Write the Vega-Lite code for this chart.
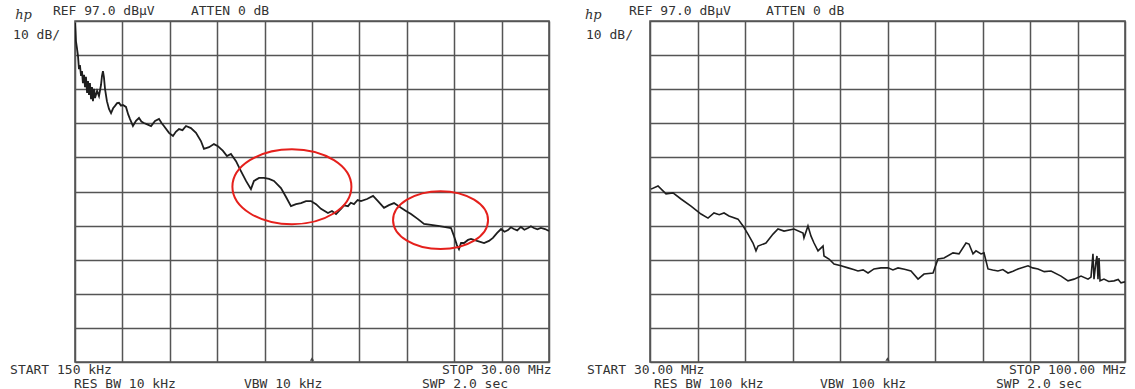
{
  "$schema": "https://vega.github.io/schema/vega-lite/v6.json",
  "background": "white",
  "padding": {"left": 9, "top": 4, "right": 0, "bottom": 0},
  "bounds": "flush",
  "spacing": 101,
  "config": {"view": {"stroke": "#555", "strokeWidth": 1.6}},
  "datasets": {
    "trace1": [
      {"f":0.15,"dB":96.4},{"f":0.18,"dB":94.1},{"f":0.21,"dB":91.1},{"f":0.28,"dB":88.8},{"f":0.34,"dB":86.7},
      {"f":0.40,"dB":82.9},{"f":0.46,"dB":84.1},{"f":0.53,"dB":80.9},{"f":0.59,"dB":82.3},{"f":0.65,"dB":78.8},
      {"f":0.72,"dB":81.2},{"f":0.78,"dB":77.6},{"f":0.84,"dB":80.6},{"f":0.91,"dB":75.9},{"f":0.97,"dB":79.4},
      {"f":1.03,"dB":75.3},{"f":1.09,"dB":78.8},{"f":1.16,"dB":74.1},{"f":1.22,"dB":77.6},{"f":1.28,"dB":73.5},
      {"f":1.35,"dB":77.1},{"f":1.41,"dB":74.4},{"f":1.54,"dB":76.5},{"f":1.66,"dB":75.0},{"f":1.79,"dB":78.3},
      {"f":1.85,"dB":80.9},{"f":1.91,"dB":82.3},{"f":1.97,"dB":80.6},{"f":2.04,"dB":77.1},{"f":2.16,"dB":73.5},
      {"f":2.29,"dB":71.2},{"f":2.42,"dB":70.0},{"f":2.55,"dB":71.4},{"f":2.67,"dB":72.1},{"f":2.80,"dB":72.9},{"f":2.92,"dB":73.0},{"f":3.05,"dB":72.2},{"f":3.17,"dB":72.4},
      {"f":3.36,"dB":71.8},{"f":3.50,"dB":69.6},{"f":3.61,"dB":68.3},{"f":3.80,"dB":66.2},{"f":3.99,"dB":67.7},{"f":4.18,"dB":68.6},
      {"f":4.33,"dB":67.5},{"f":4.49,"dB":67.1},{"f":4.70,"dB":66.7},{"f":4.94,"dB":66.2},{"f":5.19,"dB":67.7},{"f":5.44,"dB":68.3},{"f":5.60,"dB":67.1},{"f":5.75,"dB":66.2},
      {"f":6.07,"dB":64.2},{"f":6.32,"dB":63.3},{"f":6.50,"dB":64.5},{"f":6.70,"dB":65.3},{"f":6.92,"dB":65.0},{"f":7.14,"dB":66.2},{"f":7.45,"dB":65.6},
      {"f":7.77,"dB":64.2},{"f":8.08,"dB":61.8},{"f":8.27,"dB":59.5},{"f":8.59,"dB":60.0},{"f":8.90,"dB":60.9},
      {"f":9.15,"dB":60.3},{"f":9.47,"dB":58.9},{"f":9.72,"dB":57.4},{"f":9.97,"dB":58.0},{"f":10.29,"dB":55.9},
      {"f":10.60,"dB":53.0},{"f":10.92,"dB":50.1},{"f":11.23,"dB":47.7},{"f":11.42,"dB":50.1},{"f":11.74,"dB":51.0},
      {"f":12.05,"dB":51.0},{"f":12.37,"dB":50.7},{"f":12.68,"dB":50.1},{"f":13.12,"dB":48.0},{"f":13.44,"dB":45.4},
      {"f":13.75,"dB":42.7},{"f":14.07,"dB":43.3},{"f":14.38,"dB":43.6},{"f":14.70,"dB":44.2},{"f":15.01,"dB":44.2},
      {"f":15.33,"dB":43.3},{"f":15.64,"dB":41.9},{"f":16.08,"dB":40.7},{"f":16.33,"dB":41.3},{"f":16.59,"dB":40.4},
      {"f":16.90,"dB":41.9},{"f":17.10,"dB":42.9},{"f":17.34,"dB":42.7},{"f":17.52,"dB":43.7},{"f":17.72,"dB":43.3},{"f":17.95,"dB":44.5},{"f":18.16,"dB":44.2},{"f":18.54,"dB":44.8},
      {"f":18.92,"dB":45.7},{"f":19.23,"dB":44.2},{"f":19.61,"dB":42.2},{"f":19.92,"dB":43.0},{"f":20.24,"dB":43.6},
      {"f":20.68,"dB":42.2},{"f":20.99,"dB":41.3},{"f":21.31,"dB":40.4},{"f":21.75,"dB":38.9},{"f":22.13,"dB":37.5},
      {"f":22.57,"dB":37.2},{"f":23.01,"dB":36.9},{"f":23.39,"dB":36.6},{"f":23.83,"dB":36.3},{"f":24.02,"dB":33.9},
      {"f":24.20,"dB":31.3},{"f":24.33,"dB":30.1},{"f":24.46,"dB":31.9},{"f":24.65,"dB":31.9},{"f":24.90,"dB":32.8},
      {"f":25.09,"dB":33.1},{"f":25.47,"dB":32.5},{"f":25.91,"dB":31.9},{"f":26.22,"dB":32.5},{"f":26.47,"dB":33.4},
      {"f":26.72,"dB":34.8},{"f":26.98,"dB":36.0},{"f":27.20,"dB":35.2},{"f":27.42,"dB":35.7},{"f":27.60,"dB":36.5},{"f":27.79,"dB":36.0},{"f":28.00,"dB":35.6},{"f":28.23,"dB":36.6},
      {"f":28.45,"dB":35.8},{"f":28.68,"dB":36.3},{"f":28.86,"dB":36.8},{"f":29.05,"dB":36.3},{"f":29.27,"dB":35.9},{"f":29.49,"dB":36.3},{"f":29.75,"dB":36.0},{"f":30.00,"dB":35.4}
    ],
    "trace2": [
      {"f":30.15,"dB":47.7},{"f":31.18,"dB":48.6},{"f":32.36,"dB":46.3},{"f":33.39,"dB":46.6},{"f":34.57,"dB":44.8},
      {"f":36.04,"dB":42.7},{"f":37.52,"dB":40.4},{"f":38.55,"dB":39.2},{"f":39.43,"dB":40.7},{"f":40.20,"dB":40.2},{"f":40.91,"dB":40.7},
      {"f":41.64,"dB":39.8},{"f":42.97,"dB":38.9},{"f":43.71,"dB":36.9},{"f":44.44,"dB":34.5},{"f":45.18,"dB":31.9},
      {"f":45.62,"dB":29.6},{"f":45.92,"dB":31.0},{"f":47.09,"dB":31.9},{"f":48.13,"dB":34.5},{"f":48.86,"dB":36.0},
      {"f":49.75,"dB":35.4},{"f":51.22,"dB":36.0},{"f":52.55,"dB":34.8},{"f":52.69,"dB":33.4},{"f":53.28,"dB":36.9},
      {"f":53.73,"dB":33.9},{"f":54.17,"dB":31.9},{"f":54.76,"dB":29.6},{"f":55.50,"dB":31.0},{"f":55.64,"dB":28.1},
      {"f":56.38,"dB":27.2},{"f":57.12,"dB":25.7},{"f":58.15,"dB":25.2},{"f":59.18,"dB":24.6},{"f":60.00,"dB":24.1},{"f":60.65,"dB":23.7},
      {"f":61.40,"dB":24.0},{"f":62.13,"dB":23.1},{"f":63.01,"dB":24.3},{"f":64.04,"dB":24.6},{"f":65.07,"dB":24.6},{"f":65.80,"dB":24.0},{"f":66.55,"dB":24.6},
      {"f":67.50,"dB":24.2},{"f":68.46,"dB":23.7},{"f":69.50,"dB":21.3},{"f":70.38,"dB":22.8},{"f":71.71,"dB":23.1},{"f":72.44,"dB":27.2},
      {"f":73.33,"dB":27.5},{"f":74.65,"dB":29.0},{"f":75.54,"dB":28.7},{"f":76.57,"dB":31.9},{"f":77.01,"dB":31.6},
      {"f":77.60,"dB":28.7},{"f":78.04,"dB":29.6},{"f":78.78,"dB":28.7},{"f":79.22,"dB":29.0},{"f":79.81,"dB":24.3},
      {"f":80.50,"dB":24.0},{"f":81.28,"dB":23.7},{"f":82.00,"dB":24.1},{"f":82.76,"dB":23.1},{"f":83.50,"dB":23.6},{"f":84.23,"dB":24.3},{"f":85.71,"dB":25.2},{"f":86.40,"dB":24.6},{"f":87.18,"dB":24.3},
      {"f":88.10,"dB":23.5},{"f":89.10,"dB":23.7},{"f":90.57,"dB":22.2},{"f":91.60,"dB":20.8},{"f":92.49,"dB":21.3},{"f":93.52,"dB":22.2},
      {"f":94.55,"dB":21.3},{"f":94.99,"dB":21.9},{"f":95.28,"dB":28.7},{"f":95.43,"dB":21.3},{"f":95.73,"dB":26.6},
      {"f":95.87,"dB":28.1},{"f":96.02,"dB":21.3},{"f":96.17,"dB":27.5},{"f":96.32,"dB":20.8},{"f":96.90,"dB":21.3},
      {"f":97.60,"dB":20.6},{"f":98.38,"dB":20.8},{"f":99.00,"dB":21.2},{"f":99.41,"dB":20.2},{"f":100.0,"dB":20.5}
    ],
    "ellipses": [
      {"id":"a","f":13.81,"dB":48.4},
      {"id":"b","f":23.17,"dB":38.6}
    ],
    "labels1": [
      {"t":"REF 97.0 dBµV","x":-1.24,"y":99.93},
      {"t":"ATTEN 0 dB","x":7.45,"y":99.93},
      {"t":"10 dB/","x":-3.75,"y":92.89},
      {"t":"START 150 kHz","x":-3.94,"y":-5.35},
      {"t":"RES BW 10 kHz","x":0.09,"y":-9.45},
      {"t":"VBW 10 kHz","x":10.79,"y":-9.45},
      {"t":"STOP 30.00 MHz","x":23.26,"y":-5.35},
      {"t":"SWP 2.0 sec","x":22.0,"y":-9.45}
    ],
    "labels2": [
      {"t":"REF 97.0 dBµV","x":26.91,"y":99.93},
      {"t":"ATTEN 0 dB","x":47.09,"y":99.93},
      {"t":"10 dB/","x":20.57,"y":92.89},
      {"t":"START 30.00 MHz","x":20.72,"y":-5.35},
      {"t":"RES BW 100 kHz","x":30.59,"y":-9.45},
      {"t":"VBW 100 kHz","x":55.05,"y":-9.45},
      {"t":"STOP 100.00 MHz","x":82.9,"y":-5.35},
      {"t":"SWP 2.0 sec","x":80.99,"y":-9.45}
    ],
    "logo1": [{"t":"hp","x":-3.62,"y":98.76}],
    "logo2": [{"t":"hp","x":20.42,"y":98.76}],
    "mark1": [{"x":15.075,"y":-3}],
    "mark2": [{"x":65,"y":-3}]
  },
  "hconcat": [
    {
      "width": 474,
      "height": 341,
      "layer": [
        {
          "data": {"name": "trace1"},
          "mark": {"type": "line", "stroke": "#1e1e1e", "strokeWidth": 1.8, "clip": true},
          "encoding": {
            "x": {"field": "f", "type": "quantitative",
                  "scale": {"domain": [0.15, 30], "nice": false, "zero": false},
                  "axis": {"values": [0.15,3.135,6.12,9.105,12.09,15.075,18.06,21.045,24.03,27.015,30], "tickCount": 40, "grid": true, "labels": false, "ticks": false, "domain": false, "title": null, "gridColor": "#555", "gridWidth": 1.5, "gridOpacity": 1}},
            "y": {"field": "dB", "type": "quantitative",
                  "scale": {"domain": [-3, 97], "nice": false, "zero": false},
                  "axis": {"values": [-3,7,17,27,37,47,57,67,77,87,97], "tickCount": 40, "grid": true, "labels": false, "ticks": false, "domain": false, "title": null, "gridColor": "#555", "gridWidth": 1.5, "gridOpacity": 1}}
          }
        },
        {
          "data": {"name": "ellipses"},
          "transform": [{"filter": "datum.id === 'a'"}],
          "mark": {"type": "point", "filled": false, "stroke": "#e5201c", "strokeWidth": 2, "opacity": 1, "size": 14161, "shape": "M-1,0A1,0.63,0,1,1,1,0A1,0.63,0,1,1,-1,0Z"},
          "encoding": {"x": {"field": "f", "type": "quantitative"}, "y": {"field": "dB", "type": "quantitative"}}
        },
        {
          "data": {"name": "ellipses"},
          "transform": [{"filter": "datum.id === 'b'"}],
          "mark": {"type": "point", "filled": false, "stroke": "#e5201c", "strokeWidth": 2, "opacity": 1, "size": 9025, "shape": "M-1,0A1,0.61,0,1,1,1,0A1,0.61,0,1,1,-1,0Z"},
          "encoding": {"x": {"field": "f", "type": "quantitative"}, "y": {"field": "dB", "type": "quantitative"}}
        },
        {
          "data": {"name": "mark1"},
          "mark": {"type": "point", "shape": "triangle-up", "filled": true, "fill": "#444", "size": 18, "opacity": 1, "yOffset": -3},
          "encoding": {"x": {"field": "x", "type": "quantitative"}, "y": {"field": "y", "type": "quantitative"}}
        },
        {
          "data": {"name": "labels1"},
          "mark": {"type": "text", "align": "left", "baseline": "middle", "font": "DejaVu Sans Mono", "fontSize": 13, "fill": "#333"},
          "encoding": {"x": {"field": "x", "type": "quantitative"}, "y": {"field": "y", "type": "quantitative"}, "text": {"field": "t"}}
        },
        {
          "data": {"name": "logo1"},
          "mark": {"type": "text", "align": "left", "baseline": "middle", "font": "DejaVu Serif", "fontStyle": "italic", "fontSize": 13, "fill": "#333"},
          "encoding": {"x": {"field": "x", "type": "quantitative"}, "y": {"field": "y", "type": "quantitative"}, "text": {"field": "t"}}
        }
      ]
    },
    {
      "width": 475,
      "height": 341,
      "layer": [
        {
          "data": {"name": "trace2"},
          "mark": {"type": "line", "stroke": "#1e1e1e", "strokeWidth": 1.6, "clip": true},
          "encoding": {
            "x": {"field": "f", "type": "quantitative",
                  "scale": {"domain": [30, 100], "nice": false, "zero": false},
                  "axis": {"values": [30,37,44,51,58,65,72,79,86,93,100], "tickCount": 40, "grid": true, "labels": false, "ticks": false, "domain": false, "title": null, "gridColor": "#555", "gridWidth": 1.5, "gridOpacity": 1}},
            "y": {"field": "dB", "type": "quantitative",
                  "scale": {"domain": [-3, 97], "nice": false, "zero": false},
                  "axis": {"values": [-3,7,17,27,37,47,57,67,77,87,97], "tickCount": 40, "grid": true, "labels": false, "ticks": false, "domain": false, "title": null, "gridColor": "#555", "gridWidth": 1.5, "gridOpacity": 1}}
          }
        },
        {
          "data": {"name": "mark2"},
          "mark": {"type": "point", "shape": "triangle-up", "filled": true, "fill": "#444", "size": 18, "opacity": 1, "yOffset": -3},
          "encoding": {"x": {"field": "x", "type": "quantitative"}, "y": {"field": "y", "type": "quantitative"}}
        },
        {
          "data": {"name": "labels2"},
          "mark": {"type": "text", "align": "left", "baseline": "middle", "font": "DejaVu Sans Mono", "fontSize": 13, "fill": "#333"},
          "encoding": {"x": {"field": "x", "type": "quantitative"}, "y": {"field": "y", "type": "quantitative"}, "text": {"field": "t"}}
        },
        {
          "data": {"name": "logo2"},
          "mark": {"type": "text", "align": "left", "baseline": "middle", "font": "DejaVu Serif", "fontStyle": "italic", "fontSize": 13, "fill": "#333"},
          "encoding": {"x": {"field": "x", "type": "quantitative"}, "y": {"field": "y", "type": "quantitative"}, "text": {"field": "t"}}
        }
      ]
    }
  ]
}
